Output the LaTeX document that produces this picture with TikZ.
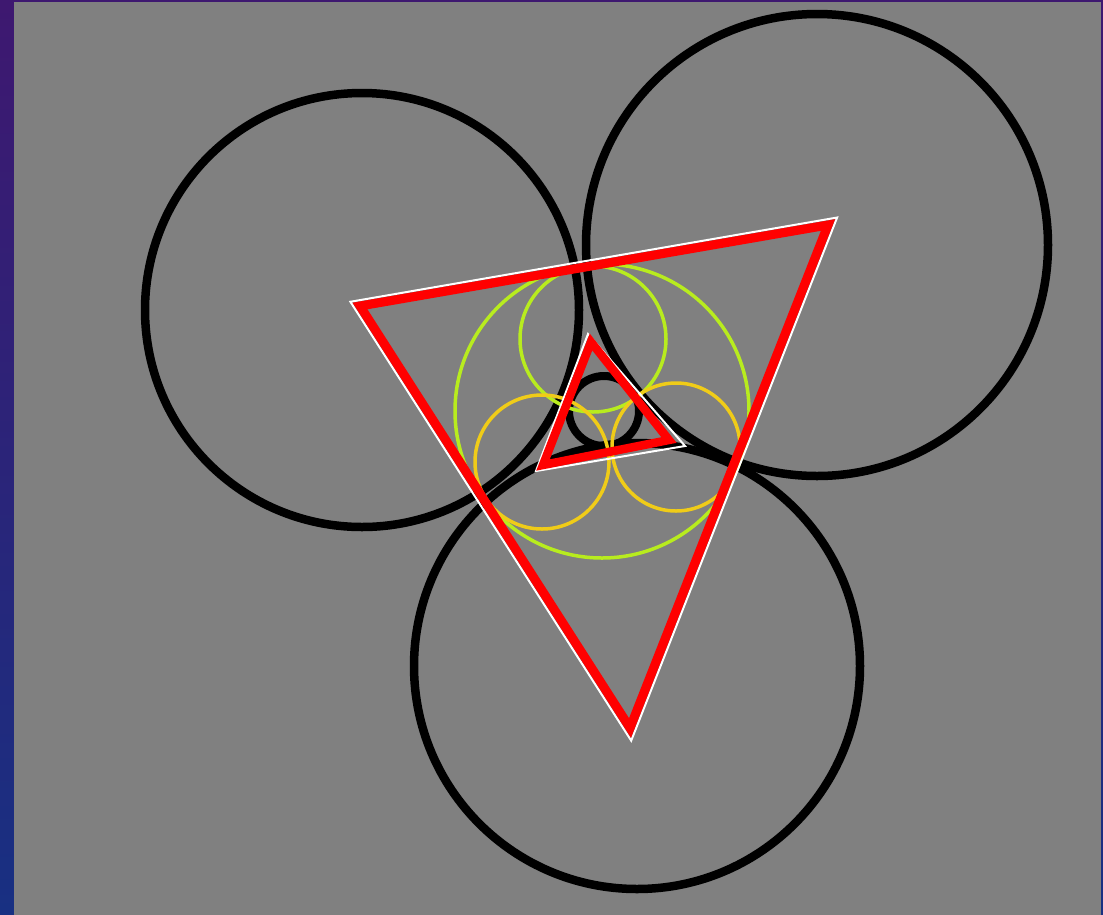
\documentclass[tikz,border=0pt]{standalone}
\usetikzlibrary{calc}
\definecolor{bgtop}{RGB}{62,24,112}
\definecolor{bgbot}{RGB}{24,48,130}
\definecolor{panel}{RGB}{128,128,128}
\definecolor{lime}{RGB}{184,236,30}
\definecolor{gold}{RGB}{240,204,24}
\tikzset{
  blackring/.style={draw=black, line width=8.5pt},
  smallring/.style={draw=black, line width=8pt},
  limering/.style={draw=lime, line width=3.5pt},
  goldring/.style={draw=gold, line width=3.5pt},
  redtri/.style={draw=red, line width=9pt, line join=miter},
  redtrismall/.style={draw=red, line width=8.5pt, line join=miter},
  whitetri/.style={draw=white, line width=2pt, line join=miter},
}
\begin{document}
\begin{tikzpicture}[x=1pt,y=-1pt]
\useasboundingbox (0,0) rectangle (1103,914);
\shade[top color=bgtop, bottom color=bgbot] (0,0) rectangle (1103,914);
\fill[panel] (14,2) rectangle (1101,918);

% centres
\coordinate (cL) at (362,310);
\coordinate (cR) at (817,245);
\coordinate (cB) at (637,666);
\coordinate (cS) at (604,411);
\coordinate (cG) at (602,411);
\coordinate (cT) at (593,339);
\coordinate (cYL) at (542,462);
\coordinate (cYR) at (676,447);

% black circles
\draw[blackring] (cL) circle (217);
\draw[blackring] (cR) circle (231);
\draw[blackring] (cB) circle (223);
\draw[smallring] (cS) circle (35);

% green and yellow circles
\draw[limering] (cG) circle (147);
\draw[limering] (cT) circle (73);
\draw[goldring] (cYL) circle (67);
\draw[goldring] (cYR) circle (64);

% big triangle
\coordinate (A) at (360,306);
\coordinate (B) at (828,225);
\coordinate (C) at (630,728);
\coordinate (I) at (600,412);
\coordinate (Aw) at ($(I)!1.04!(A)$);
\coordinate (Bw) at ($(I)!1.04!(B)$);
\coordinate (Cw) at ($(I)!1.04!(C)$);
\draw[whitetri] (Aw) -- (Bw) -- (Cw) -- cycle;
\draw[redtri] (A) -- (B) -- (C) -- cycle;

% small triangle
\coordinate (T) at (591,342);
\coordinate (L) at (543,465);
\coordinate (R) at (669,440);
\coordinate (Tw) at (588,334);
\coordinate (Lw) at (536,471);
\coordinate (Rw) at (685,446);
\draw[whitetri] (Tw) -- (Lw) -- (Rw) -- cycle;
\draw[redtrismall] (T) -- (L) -- (R) -- cycle;
\end{tikzpicture}
\end{document}
